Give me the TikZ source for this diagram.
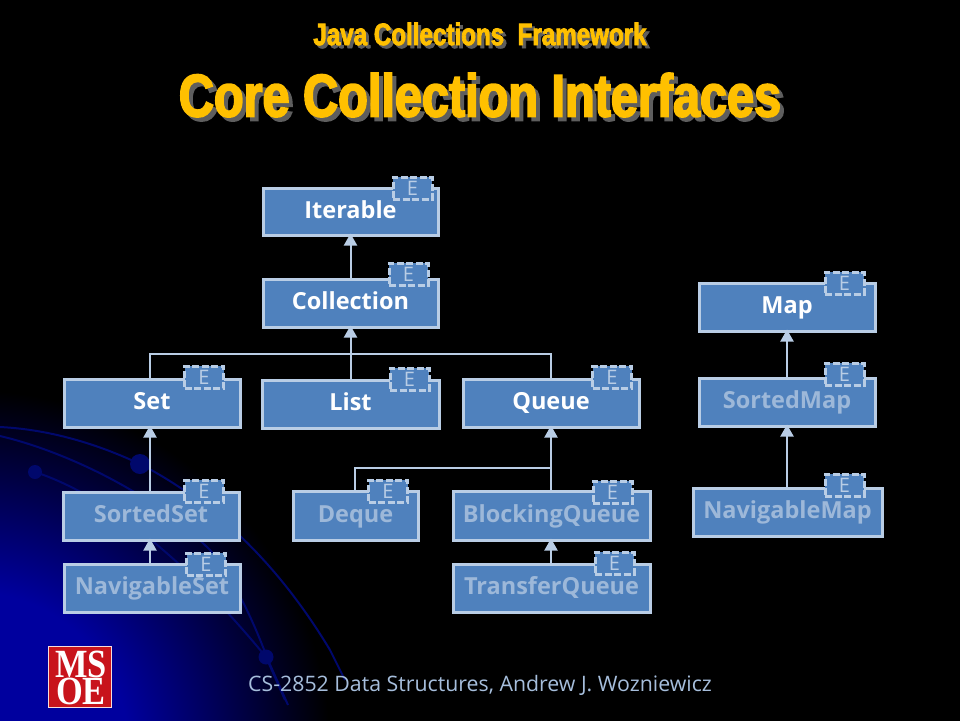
\documentclass[tikz,border=0pt]{standalone}
\usepackage{fontspec}
\setmainfont{Open Sans}
\newfontfamily\titlefont[FakeStretch=0.81,FakeBold=3]{Liberation Sans Bold}
\newfontfamily\subfont[FakeStretch=0.78,FakeBold=2.5]{Liberation Sans Bold}
\newfontfamily\logofont[FakeStretch=0.86]{Liberation Serif Bold}
\usetikzlibrary{arrows.meta}
\definecolor{boxfill}{HTML}{4F81BD}
\definecolor{boxline}{HTML}{B9CDE5}
\definecolor{fadetext}{HTML}{9DB8D9}
\definecolor{titlegold}{HTML}{FFC000}
\definecolor{arcblue}{HTML}{00086C}
\definecolor{cornerblue}{HTML}{00009E}
\definecolor{footblue}{HTML}{A6BEDC}
\definecolor{logored}{HTML}{C8141C}
\definecolor{shadowgray}{HTML}{5E5E5E}
\pgfdeclareradialshading{cornerglow}{\pgfpoint{0bp}{0bp}}{color(0bp)=(cornerblue);color(11bp)=(cornerblue);color(25bp)=(black);color(50bp)=(black)}
\tikzset{
  ibox/.style={draw=boxline,fill=boxfill,line width=3pt,inner sep=0pt,outer sep=0pt,align=center,
     font=\fontsize{23.5}{23.5}\selectfont\bfseries,text height=14pt,text depth=1pt},
  strong/.style={ibox,text=white},
  faded/.style={ibox,text=fadetext},
  ebox/.style={draw=boxline,fill=boxfill,line width=3pt,dash pattern=on 7pt off 2.5pt,inner sep=0pt,outer sep=0pt,
     minimum width=39pt,minimum height=22pt,text=boxline,font=\fontsize{20}{20}\selectfont},
  conn/.style={draw=boxline,line width=2pt},
  arrowconn/.style={conn,-{Triangle[length=12pt,width=13pt,fill=boxline]}},
  arc/.style={draw=arcblue,line width=2pt},
  dot/.style={fill=arcblue},
  titletext/.style={inner sep=0pt,font=\fontsize{60}{60}\titlefont},
  subtext/.style={inner sep=0pt,font=\fontsize{31}{31}\subfont},
  logotext/.style={text=white,inner sep=0pt,font=\fontsize{40}{40}\logofont,text height=26pt,text depth=0pt},
}
\newcommand{\ifacebox}[7]{%
  \pgfmathsetmacro{\bcx}{(#3+#5)/2}\pgfmathsetmacro{\bcy}{(#4+#6)/2}%
  \pgfmathsetmacro{\bw}{#5-#3}\pgfmathsetmacro{\bh}{#6-#4}%
  \node[#1,minimum width=\bw pt,minimum height=\bh pt] (#2) at (\bcx,\bcy) {#7};}
\begin{document}
\begin{tikzpicture}[x=1pt,y=-1pt]
\useasboundingbox (0,0) rectangle (960,720);
\fill[black] (-3,-3) rectangle (963,723);
\begin{scope}
  \clip (-3,-3) rectangle (963,723);
  \shade[shading=cornerglow] (-30,750) circle (360);
  \draw[arc] (0,427) .. controls (60,430) and (110,450) .. (140,464) .. controls (200,495) and (270,550) .. (330,650) -- (345,680);
  \draw[arc] (0,436) .. controls (60,450) and (150,490) .. (210,550) .. controls (235,580) and (255,625) .. (268,660) -- (288,705);
  \draw[arc] (35,472) .. controls (90,490) and (170,540) .. (266,657) -- (285,700);
  \fill[dot] (140,464) circle (10);
  \fill[dot] (35,472) circle (7);
  \fill[dot] (266,657) circle (7.5);
\end{scope}

% title
\node[subtext,text=shadowgray] (subshadow) at (483,37) {Java Collections\ \ Framework};
\node[subtext,text=titlegold] (subtitle) at (480,34) {Java Collections\ \ Framework};
\node[titletext,text=shadowgray] (titleshadow) at (484,99) {Core Collection Interfaces};
\node[titletext,text=titlegold] (title) at (480,95) {Core Collection Interfaces};

% boxes
\ifacebox{strong}{iterable}{263}{188}{438}{235}{Iterable}
\ifacebox{strong}{collection}{263}{279}{438}{327}{Collection}
\ifacebox{strong}{set}{64}{379}{240}{427}{Set}
\ifacebox{strong}{list}{262}{380}{439}{428}{List}
\ifacebox{strong}{queue}{463}{379}{639}{427}{Queue}
\ifacebox{strong}{map}{699}{283}{875}{331}{Map}
\ifacebox{faded}{sortedmap}{699}{378}{875}{426}{SortedMap}
\ifacebox{faded}{sortedset}{63}{492}{239}{540}{SortedSet}
\ifacebox{faded}{navset}{64}{564}{240}{612}{NavigableSet}
\ifacebox{faded}{deque}{293}{491}{418}{540}{Deque}
\ifacebox{faded}{blocking}{453}{491}{650}{540}{BlockingQueue}
\ifacebox{faded}{transfer}{453}{564}{650}{612}{TransferQueue}
\ifacebox{faded}{navmap}{693}{488}{882}{536}{NavigableMap}

% connectors
\coordinate (trunkleft) at (150,354);
\coordinate (trunkright) at (551,354);
\coordinate (branchleft) at (355,468);
\coordinate (branchright) at (551,468);
\draw[arrowconn] (collection.north) ++(0,-1) -- ([yshift=1.5pt]iterable.south);
\draw[arrowconn] (list.north) -- ([yshift=1.5pt]collection.south);
\draw[conn] ([xshift=-2pt]set.north) |- (trunkleft) -- (trunkright) -- (queue.north);
\draw[arrowconn] ([xshift=-1pt]sortedset.north) -- ([xshift=-2pt,yshift=1.5pt]set.south);
\draw[arrowconn] ([xshift=-2pt]navset.north) -- ([xshift=-1pt,yshift=1.5pt]sortedset.south);
\draw[arrowconn] ([xshift=-0.5pt]blocking.north) -- ([yshift=1.5pt]queue.south);
\draw[conn] ([xshift=-0.5pt]deque.north) |- (branchleft) -- (branchright);
\draw[arrowconn] ([xshift=-0.5pt]transfer.north) -- ([xshift=-0.5pt,yshift=1.5pt]blocking.south);
\draw[arrowconn] (sortedmap.north) -- ([yshift=1.5pt]map.south);
\draw[arrowconn] ([xshift=-0.5pt]navmap.north) -- ([yshift=1.5pt]sortedmap.south);

% E tags
\node[ebox] (e1) at (412.5,188) {E};
\node[ebox] (e2) at (408.5,274) {E};
\node[ebox] (e3) at (204,377) {E};
\node[ebox] (e4) at (409.5,379) {E};
\node[ebox] (e5) at (612,377) {E};
\node[ebox] (e6) at (844.5,283) {E};
\node[ebox] (e7) at (844.5,374) {E};
\node[ebox] (e8) at (204,491) {E};
\node[ebox] (e9) at (206,564) {E};
\node[ebox] (e10) at (388,491) {E};
\node[ebox] (e11) at (612.5,492) {E};
\node[ebox] (e12) at (614.5,563) {E};
\node[ebox] (e13) at (844.5,485) {E};

% logo
\node[draw=white!85!logored,fill=logored,line width=1pt,minimum width=63pt,minimum height=61pt,inner sep=0pt] (logo) at (80,677) {};
\node[logotext] (logoms) at (81,664.5) {MS};
\node[logotext] (logooe) at (81,691.5) {OE};

% footer
\node[text=footblue,inner sep=0pt,font=\fontsize{21.3}{21.3}\selectfont] (footer) at (480,685) {CS-2852 Data Structures, Andrew J. Wozniewicz};
\end{tikzpicture}
\end{document}
